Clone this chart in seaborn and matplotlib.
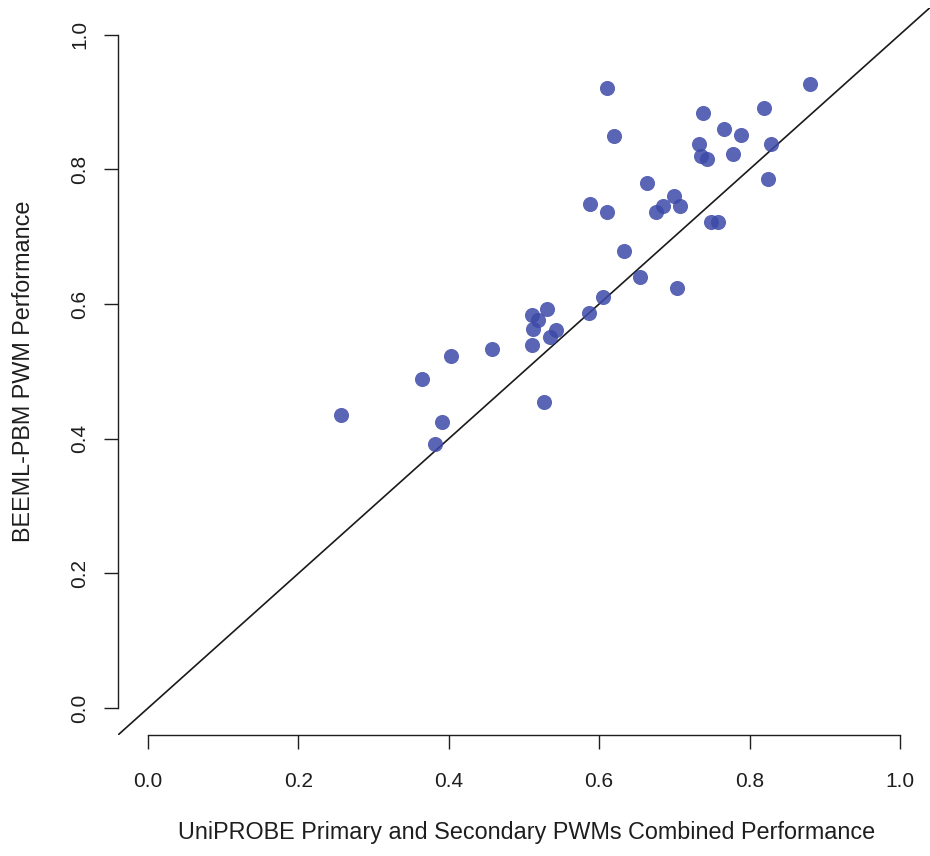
import matplotlib
matplotlib.use("Agg")
import matplotlib.pyplot as plt
import seaborn as sns
import pandas as pd

# Per-factor performance of the two PWM approaches
uniprobe_perf = [0.256, 0.364, 0.403, 0.391, 0.381, 0.457, 0.510, 0.531, 0.518, 0.512,
                 0.542, 0.534, 0.511, 0.527, 0.587, 0.605, 0.611, 0.881, 0.620, 0.738,
                 0.819, 0.766, 0.788, 0.733, 0.829, 0.736, 0.743, 0.778, 0.825, 0.664,
                 0.588, 0.610, 0.699, 0.685, 0.707, 0.675, 0.749, 0.758, 0.633, 0.654,
                 0.703]
beeml_perf = [0.435, 0.488, 0.523, 0.425, 0.392, 0.533, 0.584, 0.592, 0.576, 0.563,
              0.562, 0.551, 0.539, 0.455, 0.586, 0.611, 0.921, 0.926, 0.850, 0.883,
              0.891, 0.860, 0.851, 0.838, 0.837, 0.819, 0.815, 0.823, 0.786, 0.779,
              0.749, 0.736, 0.760, 0.746, 0.745, 0.737, 0.722, 0.721, 0.679, 0.640,
              0.624]
tick_values = [0.0, 0.2, 0.4, 0.6, 0.8, 1.0]
tick_labels = ["0.0", "0.2", "0.4", "0.6", "0.8", "1.0"]

x_label = "UniPROBE Primary and Secondary PWMs Combined Performance"
y_label = "BEEML-PBM PWM Performance"

df = pd.DataFrame({"uniprobe": uniprobe_perf, "beeml": beeml_perf})

sns.set_theme(style="white")
plt.rcParams["font.family"] = ["Liberation Sans", "DejaVu Sans"]

text_color = "#1e1e1e"
fig = plt.figure(figsize=(9.3, 8.56), dpi=100)
ax = fig.add_axes([118 / 930, 121 / 856, 812 / 930, 727.4 / 856])

sns.scatterplot(data=df, x="uniprobe", y="beeml", ax=ax, s=118,
                color="#3d4aa8", alpha=0.85, linewidth=0, zorder=3)

# identity line across the whole plotting region
ax.axline((0, 0), (1, 1), color="#1a1a1a", lw=1.2, zorder=2)

ax.set_xlim(-0.04, 1.04)
ax.set_ylim(-0.04, 1.04)
ax.set_xticks(tick_values)
ax.set_xticklabels(tick_labels)
ax.set_yticks(tick_values)
ax.set_yticklabels(tick_labels)

for side in ("top", "right"):
    ax.spines[side].set_visible(False)
ax.spines["bottom"].set_bounds(0, 1)
ax.spines["left"].set_bounds(0, 1)
for side in ("bottom", "left"):
    ax.spines[side].set_color(text_color)
    ax.spines[side].set_linewidth(1.0)

ax.tick_params(axis="both", which="major", direction="out", length=10, width=1.0,
               color=text_color, labelcolor=text_color, labelsize=15,
               bottom=True, left=True)
ax.tick_params(axis="x", pad=16.5)
ax.tick_params(axis="y", pad=10.5)
plt.setp(ax.get_yticklabels(), rotation=90, va="center")

ax.set_xlabel(x_label, fontsize=16.8, color=text_color)
ax.set_ylabel(y_label, fontsize=16.8, color=text_color)
ax.xaxis.set_label_coords((527 - 118) / 812, (23 - 121) / 727.4)
ax.xaxis.label.set_va("center")
ax.yaxis.set_label_coords((23 - 118) / 812, (856 - 371 - 121) / 727.4)
ax.yaxis.label.set_va("center")

fig.savefig("out.png", dpi=100, facecolor="white")
